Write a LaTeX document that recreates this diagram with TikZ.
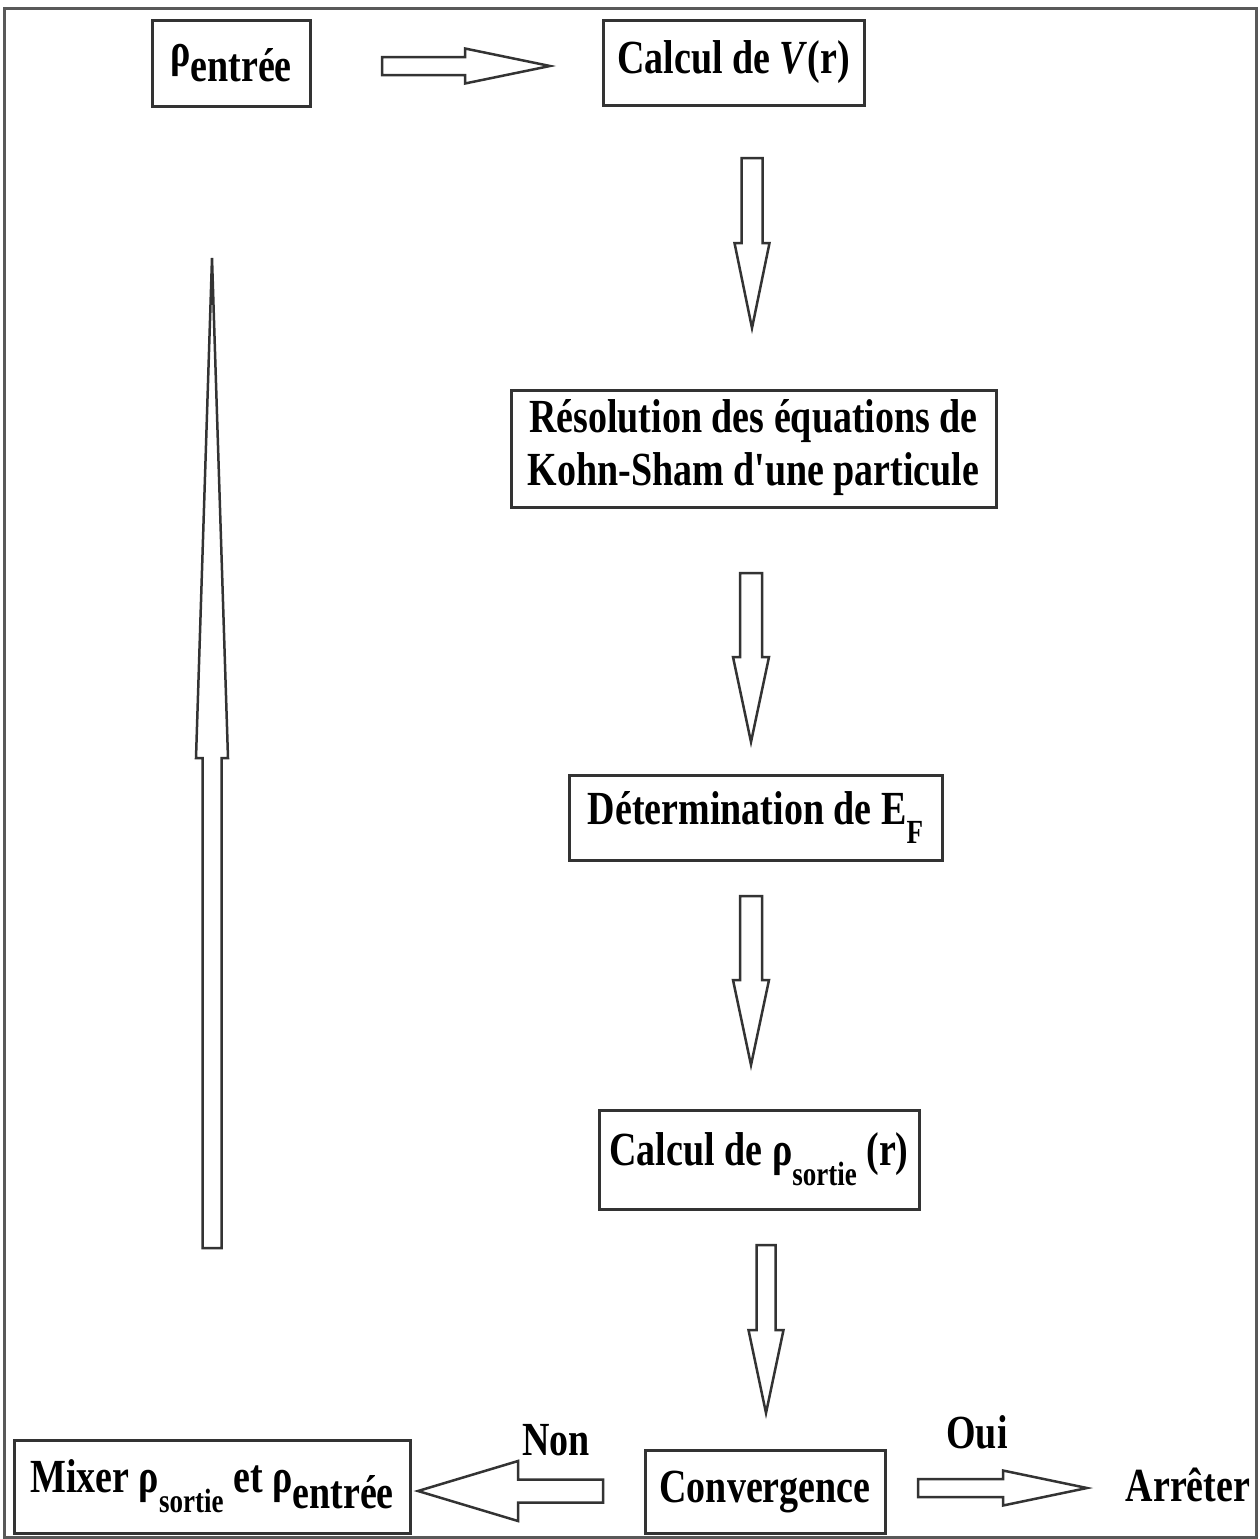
\documentclass[tikz,border=0pt]{standalone}
\usepackage{fontspec}
\usepackage{graphicx}
\setmainfont{Liberation Serif}
\usetikzlibrary{calc,positioning}

% the scanned lettering is taller than wide
\newcommand{\tall}[1]{\scalebox{1}[1.25]{#1}}
% lowered indices as in the scanned figure
\newcommand{\lowsub}[1]{\raisebox{-0.42em}{\fontsize{27}{27}\selectfont #1}}
\newcommand{\lowin}[1]{\raisebox{-0.33em}{#1}}

% hollow block arrow: start, end, shaft half width, head half width, head length
\newcommand{\fatarrow}[5]{%
	\coordinate (fa-h) at ($(#2)!#5!(#1)$);
	\draw[fat] ($(#1)!#3!90:(#2)$) -- ($(fa-h)!#3!90:(#2)$) -- ($(fa-h)!#4!90:(#2)$) -- (#2)
		-- ($(fa-h)!#4!-90:(#2)$) -- ($(fa-h)!#3!-90:(#2)$) -- ($(#1)!#3!-90:(#2)$) -- cycle;
}

\begin{document}
\begin{tikzpicture}[x=1pt, y=-1pt,
		box/.style = {draw=black!80, line width=3pt, inner sep=0pt, text centered},
		fat/.style = {draw=black!80, line width=2.5pt, fill=white, line join=miter}]
				\tikzset{every node/.style={font=\fontsize{38}{42}\selectfont\bfseries}}

				\useasboundingbox (0,0) rectangle (1260,1539);
				\draw[gray!70!black, line width=3pt] (4,8) rectangle (1256,1537);

				% Boxes
				\node[box, minimum width=158pt, minimum height=86pt] (rhoin) at (231,63) {\tall{ρ\lowin{entrée}}};
				\node[box, minimum width=261pt, minimum height=85pt] (vr) at (733.5,62.5) {\tall{Calcul de \textit{V}(r)}};
				\node[box, minimum width=485pt, minimum height=117pt] (ks) at (753.5,448.5)
					{\tall{\begin{tabular}{@{}c@{}}Résolution des équations de\\Kohn-Sham d\textquotesingle une particule\end{tabular}}};
				\node[box, minimum width=373pt, minimum height=85pt] (ef) at (755.5,817.5) {\tall{Détermination de E\lowsub{F}}};
				\node[box, minimum width=320pt, minimum height=99pt] (rhoout) at (759,1159.5) {\tall{Calcul de ρ\lowsub{sortie} (r)}};
				\node[box, minimum width=240pt, minimum height=83pt] (conv) at (765,1491.5) {\tall{Convergence}};
				\node[box, minimum width=396pt, minimum height=93pt] (mix) at (212,1486.5) {\tall{Mixer ρ\lowsub{sortie} et ρ\lowin{entrée}}};

				% Labels
				\node (non) at (556,1440) {\tall{Non}};
				\node (oui) at (977,1432) {\tall{Oui}};
				\node (stop) at (1188,1485) {\tall{Arrêter}};

				% Arrows
				\coordinate (a0s) at (382,66);   \coordinate (a0e) at (550,66);
				\coordinate (a1s) at (752,158);  \coordinate (a1e) at (752,328);
				\coordinate (a2s) at (751,573);  \coordinate (a2e) at (751,742);
				\coordinate (a3s) at (751,896);  \coordinate (a3e) at (751,1065);
				\coordinate (a4s) at (766,1245); \coordinate (a4e) at (766,1413);
				\coordinate (ouis) at (918,1488); \coordinate (ouie) at (1087,1488);
				\coordinate (nons) at (603,1491); \coordinate (none) at (418,1491);
				\coordinate (backs) at (212,1248); \coordinate (backe) at (212,258);

				\fatarrow{a0s}{a0e}{9pt}{17.5pt}{85pt}
				\fatarrow{a1s}{a1e}{10.5pt}{17.5pt}{85pt}
				\fatarrow{a2s}{a2e}{11pt}{18pt}{85pt}
				\fatarrow{a3s}{a3e}{11pt}{18pt}{85pt}
				\fatarrow{a4s}{a4e}{9.5pt}{17.5pt}{83pt}
				\fatarrow{ouis}{ouie}{9pt}{17.5pt}{84pt}
				\fatarrow{nons}{none}{11.5pt}{30pt}{100pt}
				\fatarrow{backs}{backe}{9.5pt}{16pt}{500pt}

			\end{tikzpicture}
\end{document}
